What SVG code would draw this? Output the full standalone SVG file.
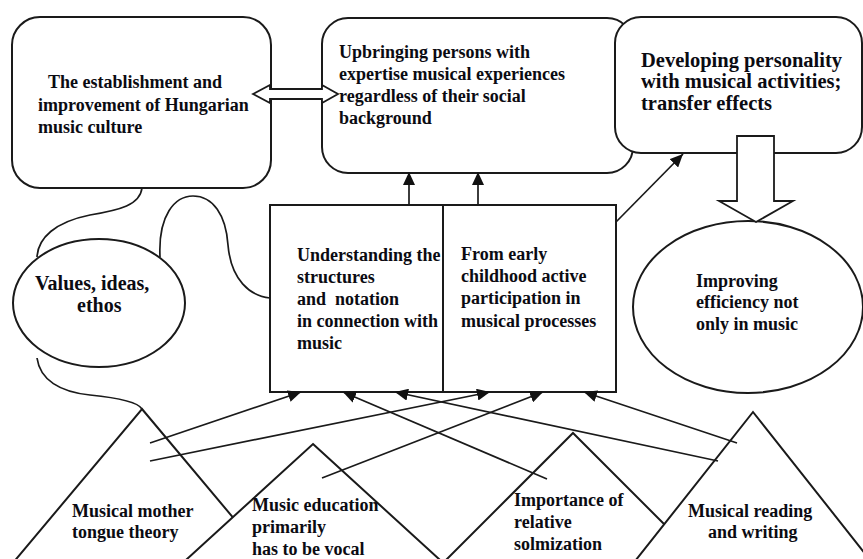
<svg xmlns="http://www.w3.org/2000/svg" width="863" height="559" viewBox="0 0 863 559">
<style>
.box{fill:#fff;stroke:#1a1a1a;stroke-width:2}
.ln{fill:none;stroke:#1a1a1a;stroke-width:1.7}
.blk{fill:#fff;stroke:#1a1a1a;stroke-width:1.8}
.t{font-family:"Liberation Serif","Times New Roman",serif;font-weight:bold;font-size:18px;fill:#0b0b12}
.big{font-size:20.5px}
.mid{font-size:20px}
</style>
<defs>
<marker id="ah" viewBox="0 0 13 12" refX="13" refY="6" markerWidth="13" markerHeight="12" markerUnits="userSpaceOnUse" orient="auto">
<path d="M0,0 L13,6 L0,12 z" fill="#111"/>
</marker>
</defs>
<rect width="863" height="559" fill="#fff"/>

<g id="n-hungarian">
<rect class="box" x="12" y="17" width="259" height="171" rx="28" ry="28"/>
<text class="t" x="48" y="88">The establishment and</text>
<text class="t" x="38" y="111">improvement of Hungarian</text>
<text class="t" x="38" y="133">music culture</text>
</g>

<g id="n-upbringing">
<rect class="box" x="322" y="18" width="311" height="155" rx="26" ry="26"/>
<text class="t" x="339" y="58">Upbringing persons with</text>
<text class="t" x="339" y="80">expertise musical experiences</text>
<text class="t" x="339" y="102">regardless of their social</text>
<text class="t" x="339" y="124">background</text>
</g>

<g id="n-personality">
<rect class="box" x="615" y="17" width="247" height="136" rx="26" ry="26"/>
<text class="t big" x="641" y="67">Developing personality</text>
<text class="t big" x="641" y="88">with musical activities;</text>
<text class="t big" x="641" y="110">transfer effects</text>
</g>

<g id="n-values">
<ellipse class="box" cx="99" cy="303" rx="86" ry="64"/>
<text class="t mid" x="35" y="290">Values, ideas,</text>
<text class="t mid" x="77" y="312">ethos</text>
</g>

<g id="n-understanding">
<rect class="box" x="270" y="205" width="173" height="187"/>
<text class="t" x="297" y="261">Understanding the</text>
<text class="t" x="297" y="283">structures</text>
<text class="t" x="297" y="305" xml:space="preserve">and  notation</text>
<text class="t" x="297" y="327">in connection with</text>
<text class="t" x="297" y="349">music</text>
</g>

<g id="n-early">
<rect class="box" x="443" y="205" width="173" height="187"/>
<text class="t" x="461" y="260">From early</text>
<text class="t" x="461" y="282">childhood active</text>
<text class="t" x="461" y="304">participation in</text>
<text class="t" x="461" y="327">musical processes</text>
</g>

<g id="n-efficiency">
<ellipse class="box" cx="748" cy="307" rx="115" ry="86"/>
<text class="t" x="696" y="287">Improving</text>
<text class="t" x="696" y="308">efficiency not</text>
<text class="t" x="696" y="330">only in music</text>
</g>

<g id="n-mothertongue">
<polygon class="box" points="142,409 277,570 7,570"/>
<text class="t" x="72" y="517">Musical mother</text>
<text class="t" x="72" y="538">tongue theory</text>
</g>

<g id="n-vocal">
<polygon class="box" points="313,444 451,570 175,570"/>
<text class="t" x="252" y="511">Music education</text>
<text class="t" x="252" y="533">primarily</text>
<text class="t" x="252" y="555">has to be vocal</text>
</g>

<g id="n-solmization">
<polygon class="box" points="573,433 710,570 436,570"/>
<text class="t" x="514" y="506">Importance of</text>
<text class="t" x="514" y="528">relative</text>
<text class="t" x="514" y="550">solmization</text>
</g>

<g id="n-reading">
<polygon class="box" points="753,412 878,570 628,570"/>
<text class="t" x="688" y="517">Musical reading</text>
<text class="t" x="708" y="538">and writing</text>
</g>

<g id="connectors">
<polygon class="blk" points="253,94 270,85 270,89 322,89 322,85 338,94 322,103 322,99 270,99 270,103"/>
<polygon class="blk" points="737,136 774,136 774,201 793,201 756,222 719,201 737,201"/>
<line class="ln" x1="409" y1="205" x2="409" y2="172" marker-end="url(#ah)"/>
<line class="ln" x1="478" y1="205" x2="478" y2="172" marker-end="url(#ah)"/>
<line class="ln" x1="616" y1="222" x2="683" y2="154" marker-end="url(#ah)"/>
<path class="ln" d="M142,188 C140,205 120,210 90,215 C55,222 38,238 37,257"/>
<path class="ln" d="M160,257 C158,215 175,196 193,196 C213,196 226,215 228,245 C231,280 250,296 270,298"/>
<path class="ln" d="M37,358 C40,380 60,392 90,395 C120,398 138,402 142,409"/>
<line class="ln" x1="150" y1="443" x2="301" y2="392" marker-end="url(#ah)"/>
<line class="ln" x1="150" y1="461" x2="490" y2="392" marker-end="url(#ah)"/>
<line class="ln" x1="322" y1="478" x2="543" y2="392" marker-end="url(#ah)"/>
<line class="ln" x1="547" y1="479" x2="343" y2="392" marker-end="url(#ah)"/>
<line class="ln" x1="718" y1="461" x2="395" y2="392" marker-end="url(#ah)"/>
<line class="ln" x1="737" y1="443" x2="584" y2="392" marker-end="url(#ah)"/>
</g>
</svg>
